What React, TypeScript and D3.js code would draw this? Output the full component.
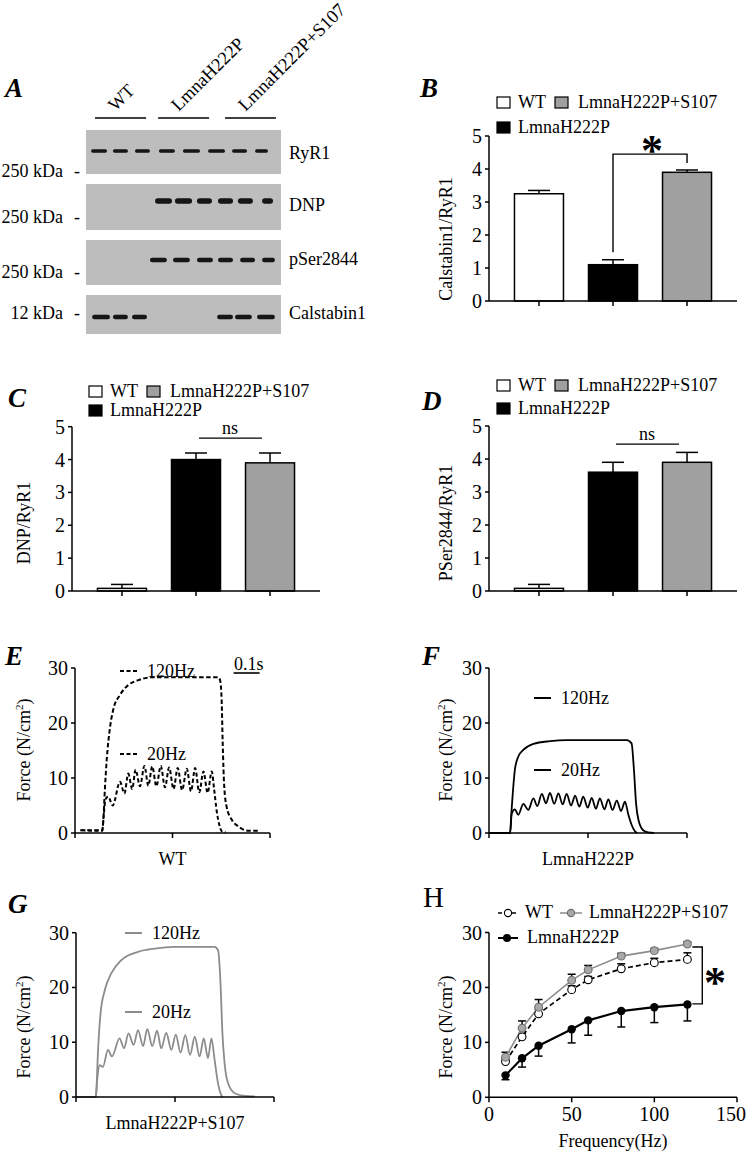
import React from "react";
import * as d3 from "d3";

const FONT = '"Liberation Serif","Times New Roman",Times,serif';

// ---------- Panel A: western blot ----------
const laneGroups = ["WT", "LmnaH222P", "LmnaH222P+S107"];
const laneGroupSpan: [number, number][] = [[4.6, 30.8], [37, 63.1], [71.3, 97.4]];
const blotTargets = ["RyR1", "DNP", "pSer2844", "Calstabin1"];
const markerLabels = ["250 kDa", "250 kDa", "250 kDa", "12 kDa"];
const bandsRyR1: [number, number][] = [[2.6, 10.8], [13.8, 21.5], [25.1, 32.8], [37.4, 45.6], [49.7, 58.5], [62.6, 71.3], [74.9, 82.6], [86.7, 93.3]];
const bandsDNP: [number, number][] = [[35.4, 44.1], [45.6, 54.4], [56.9, 64.6], [67.7, 75.4], [77.9, 85.6], [90.3, 95.9]];
const bandsPSer: [number, number][] = [[32.8, 41.5], [44.6, 53.3], [56.9, 65.1], [67.7, 75.4], [79, 86.7], [90.3, 96.9]];
const bandsCal: [number, number][] = [[3.1, 12.3], [13.8, 21.5], [23.6, 31.3], [67.2, 75.4], [76.4, 85.1], [87.7, 96.9]];
const blotBands = [bandsRyR1, bandsDNP, bandsPSer, bandsCal];

// ---------- Panels B, C, D: bar charts ----------
const groups = ["WT", "LmnaH222P", "LmnaH222P+S107"];
const calstabinMean = [3.25, 1.1, 3.9];
const calstabinErr = [0.1, 0.15, 0.07];
const dnpMean = [0.08, 4.0, 3.9];
const dnpErr = [0.12, 0.2, 0.3];
const pserMean = [0.08, 3.6, 3.9];
const pserErr = [0.12, 0.3, 0.3];
const barTicks = [0, 1, 2, 3, 4, 5];

// ---------- Panels E, F, G: force traces (ms, N/cm2) ----------
const traceTimeTicks = [0, 375, 750];
const forceTicks = [0, 10, 20, 30];
const wt120: [number, number][] = [[20, 0.5], [105, 0.5], [109, 2.4], [115, 8], [122, 13.3], [135, 19.3], [147, 22.4], [173, 25.1], [205, 26.9], [244, 27.8], [295, 28.3], [400, 28.3], [551, 28.3], [558, 27.8], [564, 24.2], [568, 16.4], [574, 8.4], [583, 4.8], [603, 2.4], [628, 1.2], [667, 0.4], [705, 0.4]];
const wt20: [number, number][] = [[25, 0.5], [105, 0.4], [110, 3], [118, 6.2], [128, 6.6], [145, 5.0], [173, 9.3], [190, 7.2], [205, 10.8], [220, 8.0], [233, 11.5], [250, 8.5], [267, 12.2], [282, 8.6], [297, 12.1], [313, 8.5], [330, 12.2], [346, 8.3], [362, 11.9], [379, 8.0], [395, 11.8], [412, 7.8], [430, 11.7], [446, 7.6], [462, 11.8], [478, 7.4], [494, 11.2], [510, 7.3], [526, 11.2], [535, 8], [545, 4], [555, 1.5], [565, 0.3], [580, 0.1]];
const lm120: [number, number][] = [[0, 0], [80, 0], [84, 3], [92, 8.4], [98, 11.5], [111, 13.9], [130, 15.1], [168, 16.2], [231, 16.7], [294, 16.9], [522, 16.9], [540, 16.3], [549, 11.5], [557, 5.4], [566, 2.4], [584, 0.5], [603, 0.1], [625, 0]];
const lm20: [number, number][] = [[0, 0], [80, 0], [86, 3.5], [98, 4.3], [111, 3.3], [130, 5.3], [149, 4.2], [168, 6.3], [183, 4.9], [200, 7.1], [216, 5.4], [231, 7.3], [247, 5.3], [263, 7.2], [279, 5.2], [294, 7.1], [311, 5.0], [326, 6.8], [342, 4.8], [357, 6.6], [374, 4.6], [389, 6.4], [405, 4.4], [420, 6.3], [437, 4.3], [452, 6.1], [468, 4.2], [484, 5.9], [500, 4.0], [515, 5.7], [528, 3.3], [540, 1.5], [553, 0.3], [562, 0]];
const s120: [number, number][] = [[0, 0], [75, 0], [77, 1], [83, 8.0], [93, 15.3], [109, 19.5], [134, 22.6], [172, 25.0], [235, 26.5], [298, 27.1], [374, 27.4], [525, 27.4], [538, 26.8], [548, 20.1], [554, 12.2], [563, 6.1], [576, 2.5], [601, 0.7], [639, 0.2], [677, 0.1]];
const s20: [number, number][] = [[0, 0], [75, 0], [80, 3], [90, 5.8], [102, 5.5], [121, 8.6], [136, 7.4], [165, 10.7], [182, 8.9], [199, 11.6], [218, 9.5], [235, 12.2], [254, 9.3], [270, 12.4], [289, 9.3], [307, 12.1], [323, 8.9], [342, 11.7], [361, 8.6], [378, 11.4], [396, 8.1], [414, 11.3], [432, 7.7], [450, 11.0], [468, 7.4], [484, 10.7], [500, 7.1], [513, 10.7], [525, 6.8], [538, 2.5], [550, 0.4], [556, 0]];

// ---------- Panel H: force-frequency ----------
const freqHz = [10, 20, 30, 50, 60, 80, 100, 120];
const freqTicks = [0, 50, 100, 150];
const forceWT = [6.5, 11.0, 15.2, 19.6, 21.4, 23.4, 24.5, 25.1];
const forceWTErr = [0.4, 0.6, 0.8, 0.7, 0.6, 0.9, 0.8, 1.2];
const forceLmna = [4.0, 7.1, 9.4, 12.4, 14.0, 15.7, 16.4, 16.9];
const forceLmnaErr = [0.8, 1.6, 1.9, 2.5, 2.7, 2.9, 2.8, 3.0];
const forceS107 = [7.3, 12.6, 16.4, 21.3, 23.2, 25.7, 26.7, 27.9];
const forceS107Err = [0.9, 1.3, 1.4, 1.1, 0.8, 0.5, 0.4, 0.4];

const BAR_FILL = ["#ffffff", "#000000", "#a0a0a0"];
const GRAY_LINE = "#8c8c8c";
const TICK_FS = 20;

function PanelLetter({ x, y, t, italic = true }: { x: number; y: number; t: string; italic?: boolean }) {
  return (
    <text x={x} y={y} fontFamily={FONT} fontSize={italic ? 27 : 29} fontWeight={italic ? "bold" : "normal"} fontStyle={italic ? "italic" : "normal"}>
      {t}
    </text>
  );
}

function Asterisk({ cx, cy }: { cx: number; cy: number }) {
  return (
    <text x={cx} y={cy + 21} textAnchor="middle" fontFamily={FONT} fontSize={44} fontWeight="bold">*</text>
  );
}

function Blot() {
  const bx = d3.scaleLinear().domain([0, 100]).range([86, 281]);
  const tops = [130, 184, 240, 295];
  const bottoms = [174, 230, 285, 334];
  const bandY = [151, 201, 260, 317];
  const bandH = [3.5, 5.5, 4.5, 4.5];
  const labelY = [159, 211, 265, 319];
  const markerY = [177, 223, 278, 319];
  return (
    <g fontFamily={FONT}>
      <defs>
        <filter id="bandBlur" x="-20%" y="-50%" width="140%" height="200%">
          <feGaussianBlur stdDeviation="0.6" />
        </filter>
      </defs>
      {laneGroups.map((g, i) => {
        const [a, b] = laneGroupSpan[i];
        const cx = (bx(a) + bx(b)) / 2;
        return (
          <g key={g}>
            <line x1={bx(a)} x2={bx(b)} y1={118} y2={118} stroke="#000" strokeWidth={1.6} />
            <text transform={`translate(${cx - 5},${112}) rotate(-45)`} fontSize={18.5}>{g}</text>
          </g>
        );
      })}
      {blotTargets.map((t, i) => (
        <g key={t}>
          <rect x={bx(0)} y={tops[i]} width={bx(100) - bx(0)} height={bottoms[i] - tops[i]} fill="#bdbdbd" />
          {blotBands[i].map(([a, b], j) => (
            <rect key={j} x={bx(a)} y={bandY[i] - bandH[i] / 2} width={bx(b) - bx(a)} height={bandH[i]} rx={bandH[i] / 2} fill="#161616" filter="url(#bandBlur)" />
          ))}
          <text x={289} y={labelY[i]} fontSize={18}>{t}</text>
          <text x={63} y={markerY[i]} fontSize={18} textAnchor="end">{markerLabels[i]}</text>
          <text x={74} y={markerY[i]} fontSize={18}>-</text>
        </g>
      ))}
    </g>
  );
}

function BarLegend({ x, y1, y2 }: { x: number; y1: number; y2: number }) {
  return (
    <g fontFamily={FONT} fontSize={18}>
      <rect x={x} y={y1 - 11} width={13} height={11} fill={BAR_FILL[0]} stroke="#000" strokeWidth={1.2} />
      <text x={x + 21} y={y1}>{groups[0]}</text>
      <rect x={x + 58} y={y1 - 11} width={13} height={11} fill={BAR_FILL[2]} stroke="#000" strokeWidth={1.2} />
      <text x={x + 81} y={y1}>{groups[2]}</text>
      <rect x={x} y={y2 - 11} width={13} height={11} fill={BAR_FILL[1]} stroke="#000" strokeWidth={1.2} />
      <text x={x + 21} y={y2}>{groups[1]}</text>
    </g>
  );
}

function BarPanel({ x0, x1, yB, yT, means, errs, label, labelX, labelY, children }: any) {
  const x = d3.scalePoint<string>().domain(groups).range([x0, x1]).padding(0.675);
  const y = d3.scaleLinear().domain([0, 5]).range([yB, yT]);
  const bw = 49;
  return (
    <g fontFamily={FONT}>
      {groups.map((g, i) => (
        <g key={g}>
          <line x1={x(g)} x2={x(g)} y1={y(means[i])} y2={y(means[i] + errs[i])} stroke="#000" strokeWidth={1.5} />
          <line x1={x(g)! - 11} x2={x(g)! + 11} y1={y(means[i] + errs[i])} y2={y(means[i] + errs[i])} stroke="#000" strokeWidth={1.5} />
          <rect x={x(g)! - bw / 2} y={y(means[i])} width={bw} height={y(0) - y(means[i])} fill={BAR_FILL[i]} stroke="#000" strokeWidth={1.5} />
          <line x1={x(g)} x2={x(g)} y1={yB} y2={yB + 5} stroke="#000" strokeWidth={1.5} />
        </g>
      ))}
      <line x1={x0} x2={x0} y1={yT} y2={yB} stroke="#000" strokeWidth={1.5} />
      <line x1={x0} x2={x1} y1={yB} y2={yB} stroke="#000" strokeWidth={1.5} />
      {barTicks.map((t) => (
        <g key={t}>
          <line x1={x0 - 4} x2={x0} y1={y(t)} y2={y(t)} stroke="#000" strokeWidth={1.5} />
          <text x={x0 - 7} y={y(t) + 7} textAnchor="end" fontSize={TICK_FS}>{t}</text>
        </g>
      ))}
      <text transform={`translate(${labelX},${labelY}) rotate(-90)`} textAnchor="middle" fontSize={18}>{label}</text>
      {children && children(x, y)}
    </g>
  );
}

function ForceLabel({ x, y }: { x: number; y: number }) {
  return (
    <text transform={`translate(${x},${y}) rotate(-90)`} textAnchor="middle" fontFamily={FONT} fontSize={18}>
      Force (N/cm<tspan fontSize={11} dy={-7}>2</tspan><tspan dy={7}>)</tspan>
    </text>
  );
}

function TracePanel({ x0, x1, yB, yT, t120, t20, color, dash, xLabel, legend }: any) {
  const x = d3.scaleLinear().domain([0, 750]).range([x0, x1]);
  const y = d3.scaleLinear().domain([0, 30]).range([yB, yT]);
  const line = d3.line<[number, number]>().x((d) => x(d[0])).y((d) => y(d[1])).curve(d3.curveMonotoneX);
  return (
    <g fontFamily={FONT}>
      <path d={line(t120)!} fill="none" stroke={color} strokeWidth={dash ? 2 : 1.8} strokeDasharray={dash ? "4.5,2.5" : undefined} />
      <path d={line(t20)!} fill="none" stroke={color} strokeWidth={dash ? 2 : 1.8} strokeDasharray={dash ? "4,2.5" : undefined} />
      <line x1={x0} x2={x0} y1={yT} y2={yB} stroke="#000" strokeWidth={1.5} />
      <line x1={x0} x2={x1} y1={yB} y2={yB} stroke="#000" strokeWidth={1.5} />
      {traceTimeTicks.map((t) => (
        <line key={t} x1={x(t)} x2={x(t)} y1={yB} y2={yB + 5} stroke="#000" strokeWidth={1.5} />
      ))}
      {forceTicks.map((t) => (
        <g key={t}>
          <line x1={x0 - 4} x2={x0} y1={y(t)} y2={y(t)} stroke="#000" strokeWidth={1.5} />
          <text x={x0 - 7} y={y(t) + 7} textAnchor="end" fontSize={TICK_FS}>{t}</text>
        </g>
      ))}
      <text x={(x0 + x1) / 2} y={yB + 32} textAnchor="middle" fontSize={18}>{xLabel}</text>
      {legend.map((lg: any) => (
        <g key={lg.text}>
          <line x1={lg.x} x2={lg.x + 17} y1={lg.y} y2={lg.y} stroke={color} strokeWidth={2} strokeDasharray={dash ? "4,2.5" : undefined} />
          <text x={lg.x + 27} y={lg.y + 6} fontSize={18}>{lg.text}</text>
        </g>
      ))}
    </g>
  );
}

function FreqPanel() {
  const x0 = 489, x1 = 737, yB = 1097.3, yT = 932.5;
  const x = d3.scaleLinear().domain([0, 150]).range([x0, x1]);
  const y = d3.scaleLinear().domain([0, 30]).range([yB, yT]);
  const pts = (vals: number[]) => freqHz.map((f, i) => [f, vals[i]] as [number, number]);
  const line = d3.line<[number, number]>().x((d) => x(d[0])).y((d) => y(d[1]));
  const cap = 4;
  return (
    <g fontFamily={FONT}>
      {freqHz.map((f, i) => (
        <g key={"e" + f} stroke="#000" strokeWidth={1.5}>
          <line x1={x(f)} x2={x(f)} y1={y(forceLmna[i])} y2={y(forceLmna[i] - forceLmnaErr[i])} />
          <line x1={x(f) - cap} x2={x(f) + cap} y1={y(forceLmna[i] - forceLmnaErr[i])} y2={y(forceLmna[i] - forceLmnaErr[i])} />
          <line x1={x(f)} x2={x(f)} y1={y(forceWT[i])} y2={y(forceWT[i] + forceWTErr[i])} />
          <line x1={x(f) - cap} x2={x(f) + cap} y1={y(forceWT[i] + forceWTErr[i])} y2={y(forceWT[i] + forceWTErr[i])} />
          <line x1={x(f)} x2={x(f)} y1={y(forceS107[i])} y2={y(forceS107[i] + forceS107Err[i])} />
          <line x1={x(f) - cap} x2={x(f) + cap} y1={y(forceS107[i] + forceS107Err[i])} y2={y(forceS107[i] + forceS107Err[i])} />
        </g>
      ))}
      <path d={line(pts(forceLmna))!} fill="none" stroke="#000" strokeWidth={2.2} />
      <path d={line(pts(forceWT))!} fill="none" stroke="#000" strokeWidth={1.7} strokeDasharray="5,3" />
      <path d={line(pts(forceS107))!} fill="none" stroke={GRAY_LINE} strokeWidth={1.6} />
      {freqHz.map((f, i) => (
        <g key={"c" + f}>
          <circle cx={x(f)} cy={y(forceLmna[i])} r={4.2} fill="#000" />
          <circle cx={x(f)} cy={y(forceWT[i])} r={3.9} fill="#fff" stroke="#000" strokeWidth={1.1} />
          <circle cx={x(f)} cy={y(forceS107[i])} r={3.9} fill="#a8a8a8" stroke="#6e6e6e" strokeWidth={1.1} />
        </g>
      ))}
      <line x1={x0} x2={x0} y1={yT} y2={yB} stroke="#000" strokeWidth={1.5} />
      <line x1={x0} x2={x1} y1={yB} y2={yB} stroke="#000" strokeWidth={1.5} />
      {freqTicks.map((t) => (
        <g key={t}>
          <line x1={x(t)} x2={x(t)} y1={yB} y2={yB + 5} stroke="#000" strokeWidth={1.5} />
          <text x={Math.min(x(t), 731)} y={yB + 24} textAnchor="middle" fontSize={TICK_FS}>{t}</text>
        </g>
      ))}
      {forceTicks.map((t) => (
        <g key={t}>
          <line x1={x0 - 4} x2={x0} y1={y(t)} y2={y(t)} stroke="#000" strokeWidth={1.5} />
          <text x={x0 - 7} y={y(t) + 7} textAnchor="end" fontSize={TICK_FS}>{t}</text>
        </g>
      ))}
      <text x={(x0 + x1) / 2} y={1147} textAnchor="middle" fontSize={18}>Frequency(Hz)</text>
      <ForceLabel x={452} y={1027} />
      <path d={`M${x(123)},${y(27.9) + 3}H${x(129)}V${y(17.0)}H${x(123)}`} fill="none" stroke="#000" strokeWidth={1.4} />
      <Asterisk cx={715} cy={976} />
      <g fontSize={18}>
        <line x1={498} x2={517} y1={913} y2={913} stroke="#000" strokeWidth={1.5} strokeDasharray="4,3" />
        <circle cx={508} cy={913} r={3.6} fill="#fff" stroke="#000" strokeWidth={1.1} />
        <text x={525} y={918}>WT</text>
        <line x1={560} x2={582} y1={913} y2={913} stroke={GRAY_LINE} strokeWidth={1.5} />
        <circle cx={571} cy={913} r={3.6} fill="#a8a8a8" stroke="#6e6e6e" strokeWidth={1.1} />
        <text x={589} y={918}>{groups[2]}</text>
        <line x1={498} x2={518} y1={938} y2={938} stroke="#000" strokeWidth={2} />
        <circle cx={507} cy={938} r={4} fill="#000" />
        <text x={527} y={943}>{groups[1]}</text>
      </g>
    </g>
  );
}

export default function App() {
  const eX = d3.scaleLinear().domain([0, 750]).range([75, 270]);
  return (
    <svg width={750} height={1160} style={{ position: "absolute", left: 0, top: 0, background: "#fff" }}>
      <rect width={750} height={1160} fill="#fff" />
      <PanelLetter x={5} y={97} t="A" />
      <Blot />

      <PanelLetter x={420} y={97} t="B" />
      <BarLegend x={497} y1={108} y2={133} />
      <BarPanel x0={489} x1={737} yB={301} yT={136} means={calstabinMean} errs={calstabinErr} label="Calstabin1/RyR1" labelX={452} labelY={239}>
        {(x: any, y: any) => (
          <g>
            <path d={`M${x(groups[1])},${y(1.48)}V${y(4.45)}H${x(groups[2])}V${y(4.18)}`} fill="none" stroke="#000" strokeWidth={1.4} />
            <Asterisk cx={652} cy={144} />
          </g>
        )}
      </BarPanel>

      <PanelLetter x={8} y={407} t="C" />
      <BarLegend x={89} y1={397} y2={416} />
      <BarPanel x0={72} x1={320} yB={591} yT={426.7} means={dnpMean} errs={dnpErr} label="DNP/RyR1" labelX={30} labelY={523}>
        {(x: any, y: any) => (
          <g>
            <line x1={x(groups[1]) + 3} x2={x(groups[2]) - 8} y1={y(4.65)} y2={y(4.65)} stroke="#000" strokeWidth={1.3} />
            <text x={(x(groups[1]) + x(groups[2])) / 2 - 3} y={y(4.65) - 4} textAnchor="middle" fontSize={18}>ns</text>
          </g>
        )}
      </BarPanel>

      <PanelLetter x={422} y={410} t="D" />
      <BarLegend x={497} y1={391} y2={414} />
      <BarPanel x0={489} x1={737} yB={591} yT={426} means={pserMean} errs={pserErr} label="PSer2844/RyR1" labelX={452} labelY={523}>
        {(x: any, y: any) => (
          <g>
            <line x1={x(groups[1]) + 3} x2={x(groups[2]) - 8} y1={y(4.45)} y2={y(4.45)} stroke="#000" strokeWidth={1.3} />
            <text x={(x(groups[1]) + x(groups[2])) / 2 - 3} y={y(4.45) - 4} textAnchor="middle" fontSize={18}>ns</text>
          </g>
        )}
      </BarPanel>

      <PanelLetter x={5} y={665} t="E" />
      <TracePanel x0={75} x1={270} yB={833} yT={668} t120={wt120} t20={wt20} color="#000" dash={true} xLabel="WT"
        legend={[{ x: 120, y: 671, text: "120Hz" }, { x: 120, y: 754, text: "20Hz" }]} />
      <ForceLabel x={30} y={750} />
      <text x={234} y={670} fontFamily={FONT} fontSize={18}>0.1s</text>
      <line x1={eX(610)} x2={eX(710)} y1={673} y2={673} stroke="#000" strokeWidth={1.6} />

      <PanelLetter x={422} y={665} t="F" />
      <TracePanel x0={489} x1={687} yB={833} yT={668} t120={lm120} t20={lm20} color="#000" dash={false} xLabel="LmnaH222P"
        legend={[{ x: 534, y: 698, text: "120Hz" }, { x: 534, y: 770, text: "20Hz" }]} />
      <ForceLabel x={452} y={750} />

      <PanelLetter x={8} y={913} t="G" />
      <TracePanel x0={76} x1={274} yB={1097} yT={932.7} t120={s120} t20={s20} color={GRAY_LINE} dash={false} xLabel="LmnaH222P+S107"
        legend={[{ x: 125, y: 933, text: "120Hz" }, { x: 125, y: 1012, text: "20Hz" }]} />
      <ForceLabel x={30} y={1027} />

      <PanelLetter x={423} y={907} t="H" italic={false} />
      <FreqPanel />
    </svg>
  );
}
